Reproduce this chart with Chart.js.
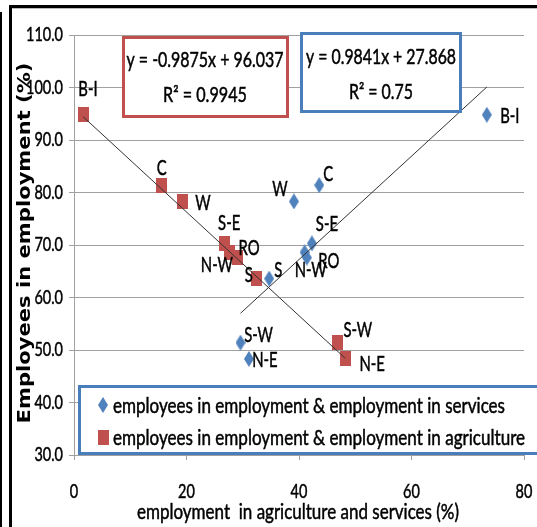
<!DOCTYPE html>
<html>
<head>
<meta charset="utf-8">
<script src="https://cdn.jsdelivr.net/npm/chart.js@4/dist/chart.umd.min.js"></script>
<style>
  html, body { margin: 0; padding: 0; background: #fff; }
  #wrap { width: 537px; height: 527px; position: relative; }
</style>
</head>
<body>
<div id="wrap"><canvas id="myChart" width="537" height="527"></canvas></div>
<script>
'use strict';

// regions (same order in every array)
let regions = ['B-I', 'C', 'W', 'S-E', 'RO', 'N-W', 'S', 'S-W', 'N-E'];
let employees = [94.8, 81.4, 78.3, 70.3, 67.6, 68.6, 63.6, 51.4, 48.3];
let agriculture = [1.6, 15.6, 19.2, 26.7, 29.0, 27.7, 32.5, 46.9, 48.2];
let services = [73.4, 43.6, 39.1, 42.3, 41.4, 41.0, 34.7, 29.6, 31.1];

// trend lines as printed in the boxes: [slope, intercept, r2]
let agriTrend = [-0.9875, 96.037, 0.9945];
let servTrend = [0.9841, 27.868, 0.75];

let xTicks = [0, 20, 40, 60, 80];
let yTicks = [30, 40, 50, 60, 70, 80, 90, 100, 110];

let servLabel = 'employees in employment & employment in services';
let agriLabel = 'employees in employment & employment in agriculture';
let xTitle = 'employment  in agriculture and services (%)';
let yTitle = 'Employees in employment (%)';

const RED = '#c0504d';
const BLUE = '#4f81bd';
const BOXBLUE = '#4a7ebb';
const FONT = 'Lato, "Liberation Sans", sans-serif';

// label placement around each marker (dx, dy from the point)
let agriLabelPos = {
  'B-I': [5, -26], 'C': [0, -17], 'W': [21, 2], 'S-E': [5, -20], 'RO': [12, -9],
  'N-W': [-13, 13], 'S': [-8, -3], 'S-W': [20, -12], 'N-E': [27, 5]
};
let servLabelPos = {
  'B-I': [23, 1], 'C': [9, -11], 'W': [-14, -12], 'S-E': [15, -19], 'RO': [22, 4],
  'N-W': [6, 18], 'S': [9, -8], 'S-W': [18, -7], 'N-E': [16, 1]
};

function makeMarker(w, h, color, diamond) {
  let c = document.createElement('canvas');
  c.width = w;
  c.height = h;
  let g = c.getContext('2d');
  g.fillStyle = color;
  if (diamond) {
    g.beginPath();
    g.moveTo(w / 2, 0);
    g.lineTo(w, h / 2);
    g.lineTo(w / 2, h);
    g.lineTo(0, h / 2);
    g.closePath();
    g.fill();
  } else {
    g.fillRect(0, 0, w, h);
  }
  return c;
}

let diamond = makeMarker(10, 16, BLUE, true);
let square = makeMarker(11, 15, RED, false);

function toPoints(xs) {
  return xs.map((x, i) => ({ x: x, y: employees[i] }));
}

function trendPoints(xs, trend) {
  let lo = Math.min(...xs);
  let hi = Math.max(...xs);
  return [{ x: lo, y: trend[0] * lo + trend[1] }, { x: hi, y: trend[0] * hi + trend[1] }];
}

function fmtEq(trend) {
  let sign = trend[1] < 0 ? ' - ' : ' + ';
  return 'y = ' + trend[0] + 'x' + sign + Math.abs(trend[1]);
}

// text squeezed sideways to a given width (the original uses a tall narrow face)
function fillFit(ctx, text, x, y, width, align) {
  let s = width / ctx.measureText(text).width;
  ctx.save();
  ctx.translate(x, y);
  ctx.scale(s, 1);
  ctx.textAlign = align;
  ctx.fillText(text, 0, 0);
  // a hairline stroke gives the heavier look of the original text
  ctx.strokeStyle = ctx.fillStyle;
  ctx.lineWidth = 0.5;
  ctx.strokeText(text, 0, 0);
  ctx.restore();
}

function fillSqueezed(ctx, text, x, y, squeeze, align) {
  fillFit(ctx, text, x, y, ctx.measureText(text).width * squeeze, align);
}

const framePlugin = {
  id: 'frame',
  beforeDraw(chart) {
    let ctx = chart.ctx;
    ctx.save();
    ctx.fillStyle = '#fff';
    ctx.fillRect(0, 0, chart.width, chart.height);
    ctx.fillStyle = '#000';
    ctx.fillRect(0, 12, 2, chart.height - 12);
    ctx.fillRect(9, 5, 3, chart.height - 5);
    ctx.fillRect(9, 5, chart.width - 9, 3);
    ctx.fillStyle = '#bbb';
    ctx.fillRect(12, 8, chart.width - 12, 1);
    ctx.restore();
  }
};

const labelPlugin = {
  id: 'pointLabels',
  afterDatasetsDraw(chart) {
    let ctx = chart.ctx;
    ctx.save();
    ctx.font = '21px ' + FONT;
    ctx.fillStyle = '#000';
    ctx.textBaseline = 'middle';
    let squeeze = 32 / ctx.measureText('N-W').width;
    chart.data.datasets.forEach((ds, di) => {
      if (!ds.labelPos) return;
      chart.getDatasetMeta(di).data.forEach((pt, i) => {
        let off = ds.labelPos[regions[i]];
        fillSqueezed(ctx, regions[i], pt.x + off[0], pt.y + off[1], squeeze, 'center');
      });
    });
    ctx.restore();
  }
};

// tick labels drawn at the scales' own pixel positions, in the narrow look
const tickPlugin = {
  id: 'tickLabels',
  afterDraw(chart) {
    let ctx = chart.ctx;
    let xs = chart.scales.x;
    let ys = chart.scales.y;
    ctx.save();
    ctx.font = '20px ' + FONT;
    ctx.fillStyle = '#000';
    ctx.textBaseline = 'middle';
    let squeeze = 37 / ctx.measureText('110.0').width;
    yTicks.forEach(v => {
      fillSqueezed(ctx, v.toFixed(1), 63, ys.getPixelForValue(v), squeeze, 'right');
    });
    xTicks.forEach(v => {
      fillSqueezed(ctx, String(v), xs.getPixelForValue(v), 492, squeeze, 'center');
    });
    ctx.restore();
  }
};

function drawBox(ctx, x, y, w, h, color, lines, widths, cx, ys) {
  ctx.fillStyle = '#fff';
  ctx.fillRect(x, y, w, h);
  ctx.strokeStyle = color;
  ctx.lineWidth = 3;
  ctx.strokeRect(x + 1.5, y + 1.5, w - 3, h - 3);
  ctx.fillStyle = '#000';
  ctx.textBaseline = 'middle';
  lines.forEach((t, i) => fillFit(ctx, t, cx, ys[i], widths[i], 'center'));
}

const boxPlugin = {
  id: 'boxes',
  afterDraw(chart) {
    let ctx = chart.ctx;
    ctx.save();
    ctx.font = '21px ' + FONT;

    // equation boxes
    drawBox(ctx, 122, 36, 167, 82, RED,
      [fmtEq(agriTrend), 'R\u00b2 = ' + agriTrend[2]], [157, 84], 205, [60, 95]);
    drawBox(ctx, 300, 32, 162, 81, BOXBLUE,
      [fmtEq(servTrend), 'R\u00b2 = ' + servTrend[2]], [150, 64], 381, [57, 92]);

    // legend
    ctx.fillStyle = '#fff';
    ctx.fillRect(78, 385, 470, 70);
    ctx.strokeStyle = BOXBLUE;
    ctx.lineWidth = 3;
    ctx.strokeRect(79.5, 386.5, 470, 67);
    ctx.textBaseline = 'middle';
    let rows = [405, 437];
    let widths = [392, 412];
    let legendSets = chart.data.datasets.filter(d => d.labelPos);
    legendSets.forEach((ds, i) => {
      let img = ds.pointStyle;
      ctx.drawImage(img, 103 - img.width / 2, rows[i] - img.height / 2);
      ctx.fillStyle = '#000';
      fillFit(ctx, ds.label, 113, rows[i] + 1, widths[i], 'left');
    });

    // x axis title
    fillFit(ctx, xTitle, 298, 512, 322, 'center');

    // y axis title, stretched like the original
    ctx.font = 'bold 17px "DejaVu Sans", sans-serif';
    let w = ctx.measureText(yTitle).width;
    ctx.translate(30, 243);
    ctx.rotate(-Math.PI / 2);
    ctx.scale(361 / w, 1);
    ctx.textAlign = 'center';
    ctx.textBaseline = 'alphabetic';
    ctx.fillStyle = '#000';
    ctx.fillText(yTitle, 0, 0);
    ctx.restore();
  }
};

const data = {
  datasets: [
    {
      label: 'trend services',
      data: trendPoints(services, servTrend),
      showLine: true,
      borderColor: '#333',
      borderWidth: 1,
      pointRadius: 0,
      order: 0
    },
    {
      label: 'trend agriculture',
      data: trendPoints(agriculture, agriTrend),
      showLine: true,
      borderColor: '#333',
      borderWidth: 1,
      pointRadius: 0,
      order: 0
    },
    {
      label: servLabel,
      data: toPoints(services),
      pointStyle: diamond,
      labelPos: servLabelPos,
      order: 1
    },
    {
      label: agriLabel,
      data: toPoints(agriculture),
      pointStyle: square,
      labelPos: agriLabelPos,
      order: 1
    }
  ]
};

const config = {
  type: 'scatter',
  data: data,
  options: {
    responsive: false,
    animation: false,
    layout: { padding: { left: 12, right: 13, top: 35, bottom: 4 } },
    plugins: {
      legend: { display: false },
      tooltip: { enabled: false }
    },
    scales: {
      x: {
        type: 'linear',
        min: xTicks[0],
        max: xTicks[xTicks.length - 1],
        afterBuildTicks: s => { s.ticks = xTicks.map(v => ({ value: v })); },
        ticks: { display: false },
        grid: { drawOnChartArea: false, tickLength: 5, color: '#a0a0a0' },
        border: { color: '#a0a0a0' },
        afterFit: s => {
          s.height = 68;
          s.paddingLeft = 0;
          s.paddingRight = 0;
        }
      },
      y: {
        min: yTicks[0],
        max: yTicks[yTicks.length - 1],
        afterBuildTicks: s => { s.ticks = yTicks.map(v => ({ value: v })); },
        ticks: { display: false },
        grid: { color: '#a0a0a0', tickLength: 5 },
        border: { color: '#a0a0a0' },
        afterFit: s => {
          s.width = 62;
          s.paddingTop = 0;
          s.paddingBottom = 0;
        }
      }
    }
  },
  plugins: [framePlugin, labelPlugin, tickPlugin, boxPlugin]
};

const myChart = new Chart(document.getElementById('myChart'), config);
</script>
</body>
</html>
